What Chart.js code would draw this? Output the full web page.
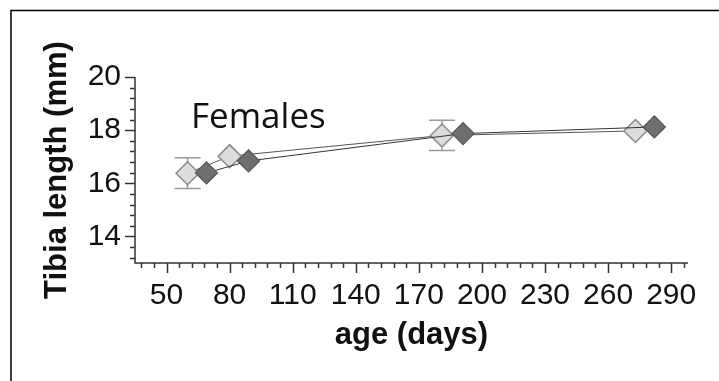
<!DOCTYPE html>
<html>
<head>
<meta charset="utf-8">
<script src="https://cdn.jsdelivr.net/npm/chart.js@4.4.1/dist/chart.umd.min.js"></script>
<style>
  html, body { margin: 0; padding: 0; background: #fff; }
  #wrap { width: 719px; height: 381px; position: relative; }
</style>
</head>
<body>
<div id="wrap"><canvas id="chart" width="719" height="381"></canvas></div>
<script>
// data (age in days, tibia length in mm)
const lightAges = [60, 80, 181, 273];
const lightLength = [16.38, 17.02, 17.8, 17.97];
const lightErr = [0.58, 0, 0.57, 0];

const darkAges = [69, 89, 191, 282];
const darkLength = [16.39, 16.84, 17.87, 18.12];

const xTickLabels = [50, 80, 110, 140, 170, 200, 230, 260, 290];
const yTickLabels = [14, 16, 18, 20];

const tickFont = { family: 'Liberation Sans, Arial, sans-serif', size: 30 };
const titleFont = { family: 'Liberation Sans, Arial, sans-serif', size: 31, weight: 'bold' };

// axes, tick marks, frame and label drawn on top of the library scales
const decorPlugin = {
    id: 'decor',
    beforeDatasetsDraw(chart) {
        const ctx = chart.ctx;
        const x = chart.scales.x, y = chart.scales.y;
        ctx.save();
        // error bars
        ctx.strokeStyle = '#9a9a9a';
        ctx.lineWidth = 1.5;
        lightAges.forEach((a, i) => {
            if (!lightErr[i]) return;
            const px = x.getPixelForValue(a);
            const top = y.getPixelForValue(lightLength[i] + lightErr[i]);
            const bot = y.getPixelForValue(lightLength[i] - lightErr[i]);
            ctx.beginPath();
            ctx.moveTo(px, top); ctx.lineTo(px, bot);
            ctx.moveTo(px - 13, top); ctx.lineTo(px + 13, top);
            ctx.moveTo(px - 13, bot); ctx.lineTo(px + 13, bot);
            ctx.stroke();
        });
        ctx.restore();
    },
    afterDraw(chart) {
        const ctx = chart.ctx;
        const area = chart.chartArea;
        const x = chart.scales.x, y = chart.scales.y;
        ctx.save();
        ctx.strokeStyle = '#333';
        ctx.lineWidth = 1.5;
        ctx.beginPath();
        ctx.moveTo(area.left, area.top);
        ctx.lineTo(area.left, area.bottom);
        ctx.lineTo(area.right, area.bottom);
        // x ticks: minor every 6 days, major at labels
        for (let v = 38; v <= 296; v += 6) {
            const px = Math.round(x.getPixelForValue(v)) + 0.5;
            const len = xTickLabels.includes(v) ? 10 : 5;
            ctx.moveTo(px, area.bottom);
            ctx.lineTo(px, area.bottom + len);
        }
        // y ticks: minor every 0.4 mm
        for (let k = 0; k <= 17; k++) {
            const v = 13.2 + k * 0.4;
            const py = Math.round(y.getPixelForValue(v)) + 0.5;
            const major = yTickLabels.some(t => Math.abs(t - v) < 0.01);
            ctx.moveTo(area.left, py);
            ctx.lineTo(area.left - (major ? 10 : 5), py);
        }
        ctx.stroke();

        // frame
        ctx.strokeStyle = '#000';
        ctx.lineWidth = 1.5;
        ctx.beginPath();
        ctx.moveTo(11, 381);
        ctx.lineTo(11, 10.5);
        ctx.lineTo(719, 10.5);
        ctx.stroke();

        // panel label
        ctx.fillStyle = '#111';
        ctx.font = '35px "Open Sans", sans-serif';
        ctx.textBaseline = 'alphabetic';
        ctx.fillText('Females', 191, 128);
        ctx.restore();
    }
};

const ctx = document.getElementById('chart').getContext('2d');
new Chart(ctx, {
    type: 'line',
    data: {
        datasets: [
            {
                label: 'light',
                data: lightAges.map((a, i) => ({ x: a, y: lightLength[i] })),
                borderColor: '#555',
                borderWidth: 1,
                backgroundColor: '#dcdcdc',
                pointStyle: 'rectRot',
                pointRadius: 11.5,
                pointBorderColor: '#8a8a8a',
                pointBorderWidth: 1.5,
                order: 2
            },
            {
                label: 'dark',
                data: darkAges.map((a, i) => ({ x: a, y: darkLength[i] })),
                borderColor: '#333',
                borderWidth: 1,
                backgroundColor: '#6f6f6f',
                pointStyle: 'rectRot',
                pointRadius: 11,
                pointBorderColor: '#555',
                pointBorderWidth: 1.2,
                order: 1
            }
        ]
    },
    options: {
        responsive: false,
        animation: false,
        layout: { padding: { left: 0, top: 77, right: 31, bottom: 0 } },
        plugins: {
            legend: { display: false },
            tooltip: { enabled: false }
        },
        scales: {
            x: {
                type: 'linear',
                min: 35,
                max: 298,
                grid: { display: false, drawTicks: false },
                border: { display: false },
                afterBuildTicks: s => { s.ticks = xTickLabels.map(v => ({ value: v })); },
                afterFit: s => { s.height = 118; s.paddingLeft = 0; s.paddingRight = 0; },
                ticks: { font: tickFont, color: '#111', padding: 15, maxRotation: 0, autoSkip: false },
                title: { display: true, text: 'age (days)', font: titleFont, color: '#111', padding: { top: 0, bottom: 27 } }
            },
            y: {
                min: 13,
                max: 20,
                grid: { display: false, drawTicks: false },
                border: { display: false },
                afterBuildTicks: s => { s.ticks = yTickLabels.map(v => ({ value: v })); },
                afterFit: s => { s.width = 135; s.paddingTop = 0; s.paddingBottom = 0; },
                ticks: { font: tickFont, color: '#111', padding: 14, autoSkip: false },
                title: { display: true, text: 'Tibia length (mm)', font: titleFont, color: '#111', padding: { top: 39, bottom: 0 } }
            }
        }
    },
    plugins: [decorPlugin]
});
</script>
</body>
</html>
